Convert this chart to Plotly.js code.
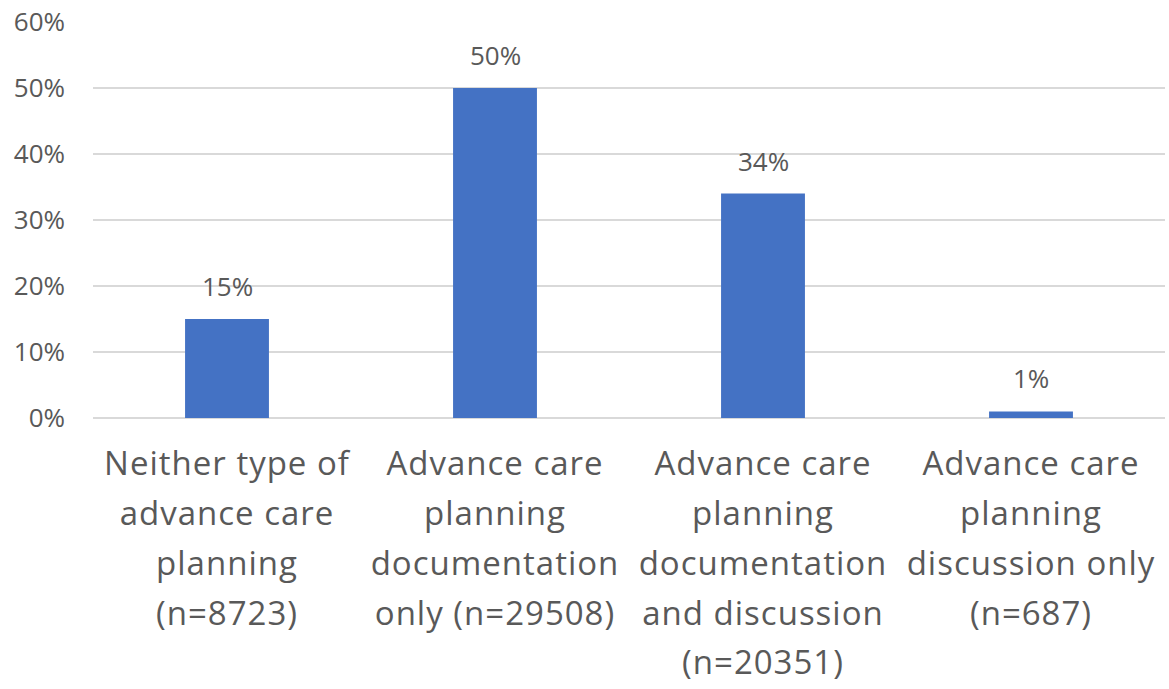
<!DOCTYPE html>
<html>
<head>
<meta charset="utf-8">
<script src="https://cdn.plot.ly/plotly-3.0.1.min.js"></script>
<style>html,body{margin:0;padding:0;background:#fff;}#chart{width:1169px;height:689px;}</style>
</head>
<body>
<div id="chart"></div>
<script>
const categories = [
  "Neither type of advance care planning (n=8723)",
  "Advance care planning documentation only (n=29508)",
  "Advance care planning documentation and discussion (n=20351)",
  "Advance care planning discussion only (n=687)"
];
const labelLines = [
  ["Neither type of", "advance care", "planning", "(n=8723)"],
  ["Advance care", "planning", "documentation", "only (n=29508)"],
  ["Advance care", "planning", "documentation", "and discussion", "(n=20351)"],
  ["Advance care", "planning", "discussion only", "(n=687)"]
];
const percentValues = [15, 50, 34, 1];
const percentLabels = ["15%", "50%", "34%", "1%"];
const yTickValues = [0, 10, 20, 30, 40, 50, 60];
const yTickLabels = ["0%", "10%", "20%", "30%", "40%", "50%", "60%"];

const FONT = "'Open Sans', sans-serif";
const TXT = "#595959";

const tickText = labelLines.map(lines =>
  lines.map(l => '<span style="font-size:33px;letter-spacing:1px">' + l + '</span>').join('<br>')
);

const trace = {
  type: 'bar',
  x: categories,
  y: percentValues,
  width: 0.313,
  marker: {color: '#4472C4'},
  hoverinfo: 'none'
};

const annotations = categories.map((c, i) => ({
  x: c, y: percentValues[i], xref: 'x', yref: 'y',
  text: percentLabels[i], showarrow: false,
  yanchor: 'bottom', yshift: 13,
  font: {family: FONT, size: 26, color: TXT}
}));

const layout = {
  width: 1169, height: 689,
  margin: {l: 93, r: 4, t: 22, b: 271},
  paper_bgcolor: '#fff', plot_bgcolor: '#fff',
  showlegend: false,
  font: {family: FONT, color: TXT},
  xaxis: {
    type: 'category',
    tickvals: categories, ticktext: tickText,
    range: [-0.5, 3.5],
    showgrid: false, zeroline: false, showline: false,
    ticks: '', ticklabelstandoff: 18,
    tickfont: {family: FONT, size: 38.3, color: TXT},
    tickangle: 0, automargin: false
  },
  yaxis: {
    range: [0, 60],
    tickvals: yTickValues, ticktext: yTickLabels,
    showgrid: true, gridcolor: '#d9d9d9', gridwidth: 1.5,
    zeroline: true, zerolinecolor: '#d9d9d9', zerolinewidth: 1.5,
    showline: false, ticks: '', ticklabelstandoff: 27,
    tickfont: {family: FONT, size: 26, color: TXT},
    automargin: false
  },
  annotations: annotations
};

Plotly.newPlot('chart', [trace], layout, {displayModeBar: false, staticPlot: true});
</script>
</body>
</html>
